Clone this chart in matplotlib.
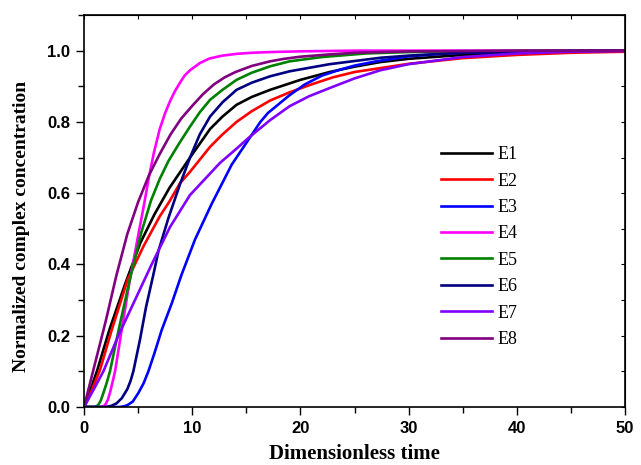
import matplotlib
matplotlib.use("Agg")
import matplotlib.pyplot as plt
from matplotlib.ticker import MultipleLocator, FormatStrFormatter

# values (dimensionless time, normalized concentration)
e1_t = [0, 0.5, 1.23, 2.34, 3.8, 5.2, 6.5, 7.9, 9.8, 11.65, 12.8, 14.1, 15.5, 17.2, 19, 20, 22.7, 25, 27.4, 30, 35, 40, 45, 50]
e1_c = [0, 0.04, 0.104, 0.216, 0.345, 0.46, 0.54, 0.615, 0.70, 0.78, 0.815, 0.848, 0.87, 0.89, 0.908, 0.918, 0.94, 0.955, 0.968, 0.977, 0.988, 0.994, 0.997, 0.999]

e2_t = [0, 0.5, 1.48, 2.56, 4.03, 5.48, 7.0, 7.86, 8.87, 9.8, 11.65, 12.8, 14.1, 15.5, 17.2, 19, 21, 23, 25, 27.4, 30, 35, 40, 45, 50]
e2_c = [0, 0.03, 0.104, 0.216, 0.357, 0.45, 0.535, 0.575, 0.628, 0.66, 0.73, 0.765, 0.80, 0.83, 0.86, 0.883, 0.905, 0.925, 0.94, 0.951, 0.963, 0.979, 0.988, 0.994, 0.997]

e3_t = [0, 3.3, 3.7, 4.0, 4.5, 5.0, 5.5, 5.95, 6.5, 7.18, 8.1, 9.0, 10.26, 11.8, 13.65, 15.2, 16.3, 17, 18, 19, 20.4, 22, 23.7, 25, 27, 30, 33, 35, 40, 50]
e3_c = [0, 0, 0.002, 0.005, 0.015, 0.038, 0.066, 0.10, 0.15, 0.216, 0.29, 0.37, 0.47, 0.57, 0.68, 0.75, 0.80, 0.825, 0.85, 0.875, 0.905, 0.93, 0.947, 0.958, 0.97, 0.984, 0.991, 0.994, 0.998, 1.0]

e4_t = [0, 1.5, 1.8, 2.0, 2.2, 2.4, 2.6, 2.87, 3.48, 4.2, 5.0, 5.5, 6.0, 6.47, 7.0, 7.5, 7.95, 8.4, 8.87, 9.3, 9.8, 10.7, 11.6, 12.8, 14.1, 15.5, 17.2, 20, 25, 50]
e4_c = [0, 0, 0.002, 0.008, 0.02, 0.04, 0.065, 0.10, 0.216, 0.35, 0.48, 0.56, 0.645, 0.715, 0.78, 0.825, 0.858, 0.886, 0.91, 0.93, 0.945, 0.965, 0.978, 0.986, 0.991, 0.994, 0.996, 0.998, 1.0, 1.0]

e5_t = [0, 1.0, 1.3, 1.55, 1.8, 2.1, 2.4, 3.2, 4.25, 5.3, 6.2, 7.0, 7.8, 8.8, 9.8, 10.7, 11.65, 12.8, 14.1, 15.5, 17.2, 19, 22, 26, 30, 40, 50]
e5_c = [0, 0, 0.005, 0.018, 0.04, 0.068, 0.10, 0.216, 0.36, 0.49, 0.58, 0.64, 0.69, 0.74, 0.787, 0.827, 0.862, 0.89, 0.918, 0.938, 0.956, 0.97, 0.982, 0.992, 0.996, 0.999, 1.0]

e6_t = [0, 2.0, 2.5, 3.0, 3.5, 4.0, 4.3, 4.56, 5.18, 5.73, 6.4, 6.9, 7.8, 8.87, 9.8, 10.7, 11.65, 12.8, 14.1, 15.5, 17.2, 19, 22.7, 27.4, 30, 35, 40, 50]
e6_c = [0, 0, 0.003, 0.01, 0.025, 0.05, 0.073, 0.10, 0.19, 0.28, 0.37, 0.44, 0.53, 0.625, 0.70, 0.765, 0.815, 0.855, 0.89, 0.91, 0.928, 0.942, 0.962, 0.98, 0.986, 0.994, 0.998, 1.0]

e7_t = [0, 1.0, 1.79, 3.17, 4.71, 6.25, 7.95, 9.8, 11.65, 12.57, 14.1, 15.2, 17.2, 19, 20.8, 22.7, 25, 27.4, 30, 35, 40, 45, 50]
e7_c = [0, 0.055, 0.10, 0.20, 0.30, 0.40, 0.505, 0.595, 0.655, 0.685, 0.725, 0.755, 0.805, 0.844, 0.872, 0.895, 0.922, 0.945, 0.962, 0.982, 0.992, 0.997, 0.999]

e8_t = [0, 0.5, 1.0, 2.0, 3.0, 4.0, 5.0, 6.0, 7.0, 8.0, 9.0, 10.0, 11.0, 12.0, 13.0, 14.0, 15.5, 17.2, 18.5, 20, 22.5, 25, 30, 40, 50]
e8_c = [0, 0.06, 0.12, 0.24, 0.37, 0.485, 0.575, 0.65, 0.71, 0.765, 0.81, 0.845, 0.878, 0.905, 0.925, 0.94, 0.957, 0.97, 0.977, 0.983, 0.989, 0.994, 0.998, 1.0, 1.0]

series = [
    ("E1", e1_t, e1_c, "black"),
    ("E2", e2_t, e2_c, "#ff0000"),
    ("E3", e3_t, e3_c, "#0000ff"),
    ("E4", e4_t, e4_c, "#ff00ff"),
    ("E5", e5_t, e5_c, "#008000"),
    ("E6", e6_t, e6_c, "#000080"),
    ("E7", e7_t, e7_c, "#8000ff"),
    ("E8", e8_t, e8_c, "#800080"),
]

fig = plt.figure(figsize=(6.41, 4.65), dpi=100)
ax = fig.add_axes([84 / 641, 58 / 465, 541 / 641, 392 / 465])

for name, t, c, col in series:
    ax.plot(t, c, color=col, lw=1.9, label=name, solid_joinstyle="round")

ax.set_xlim(0, 50)
ax.set_ylim(0, 1.1)
ax.xaxis.set_major_locator(MultipleLocator(10))
ax.xaxis.set_minor_locator(MultipleLocator(5))
ax.set_yticks([0, 0.2, 0.4, 0.6, 0.8, 1.0])
ax.yaxis.set_minor_locator(MultipleLocator(0.1))
ax.yaxis.set_major_formatter(FormatStrFormatter("%.1f"))

ax.tick_params(which="both", direction="out", top=False, right=False, width=1)
ax.tick_params(which="major", length=6, pad=4)
ax.tick_params(which="minor", length=4)
for lab in ax.get_xticklabels() + ax.get_yticklabels():
    lab.set_family("Liberation Sans")
    lab.set_weight("bold")
    lab.set_fontsize(12)

# inward ticks on top and right
sec_x = ax.secondary_xaxis("top")
sec_x.xaxis.set_major_locator(MultipleLocator(5))
sec_x.tick_params(direction="in", length=3, labeltop=False)
sec_y = ax.secondary_yaxis("right")
sec_y.yaxis.set_major_locator(MultipleLocator(0.1))
sec_y.tick_params(direction="in", length=3, labelright=False)

for sp in ax.spines.values():
    sp.set_linewidth(1.2)

ax.set_xlabel("Dimensionless time", family="Liberation Serif", weight="bold", fontsize=15, labelpad=6)
ax.set_ylabel("Normalized complex concentration", family="Liberation Serif", weight="bold", fontsize=14)
ax.yaxis.set_label_coords(-0.10, 0.46)

ax.legend(loc="center left", bbox_to_anchor=(0.66, 0.408), frameon=False,
          prop={"family": "Liberation Serif", "size": 13},
          handlelength=2.8, handletextpad=0.35, labelspacing=0.52,
          borderpad=0, borderaxespad=0)

fig.savefig("out.png", dpi=100)
